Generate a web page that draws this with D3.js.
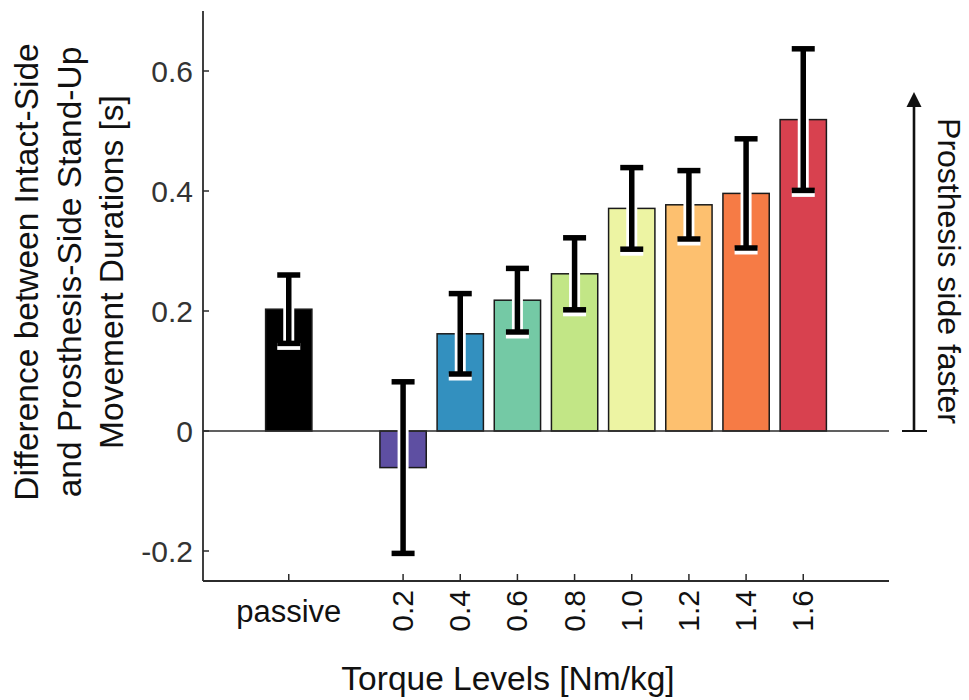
<!DOCTYPE html>
<html>
<head>
<meta charset="utf-8">
<script src="https://cdn.jsdelivr.net/npm/d3@7"></script>
<style>
  html, body { margin: 0; padding: 0; background: #fff; }
  svg { display: block; font-family: "Liberation Sans", Arial, Helvetica, sans-serif; }
</style>
</head>
<body>
<svg id="chart" width="969" height="700"></svg>
<script>
// Torque levels (passive condition first), mean duration difference and SD
const categories = ["passive", "0.2", "0.4", "0.6", "0.8", "1.0", "1.2", "1.4", "1.6"];
const meanDiff   = [0.203, -0.061, 0.162, 0.218, 0.262, 0.371, 0.377, 0.396, 0.519];
const sdDiff     = [0.057, 0.143, 0.067, 0.053, 0.060, 0.068, 0.057, 0.091, 0.118];
const barColors  = ["#000000", "#5e4fa2", "#3390bf", "#74c9a5", "#c2e686",
                    "#edf4a3", "#fdc06f", "#f67b45", "#d8414f"];
const yTicks     = [-0.2, 0, 0.2, 0.4, 0.6];
const yTickLabels = ["-0.2", "0", "0.2", "0.4", "0.6"];

const svg = d3.select("#chart");

// Category slots, with empty spacers around the passive bar and at the ends
const slots = ["_s0", "passive", "_s1", ...categories.slice(1), "_s2"];
const x = d3.scaleBand().domain(slots).range([203, 889]).paddingInner(0.19).paddingOuter(0.095);
const y = d3.scaleLinear().domain([-0.25, 0.7]).range([581, 11]);

const axisColor = "#2b2b2b";
const data = categories.map((c, i) => ({ cat: c, mean: meanDiff[i], sd: sdDiff[i], color: barColors[i] }));
const cx = d => x(d.cat) + x.bandwidth() / 2;

// Bars
svg.append("g").selectAll("rect").data(data).join("rect")
  .attr("x", d => x(d.cat))
  .attr("width", x.bandwidth())
  .attr("y", d => y(Math.max(0, d.mean)))
  .attr("height", d => Math.abs(y(d.mean) - y(0)))
  .attr("fill", d => d.color)
  .attr("stroke", "#1a1a1a")
  .attr("stroke-width", 1.5);

// Zero line
svg.append("line")
  .attr("x1", 203).attr("x2", 889)
  .attr("y1", y(0)).attr("y2", y(0))
  .attr("stroke", axisColor).attr("stroke-width", 1.6);

// Error bars: white halo underneath, black bar on top
const capW = 23;
const eb = svg.append("g").selectAll("g").data(data).join("g");
eb.append("line")
  .attr("x1", cx).attr("x2", cx)
  .attr("y1", d => y(d.mean + d.sd)).attr("y2", d => y(d.mean - d.sd))
  .attr("stroke", "#fff").attr("stroke-width", 11);
eb.append("line")
  .attr("x1", d => cx(d) - capW / 2).attr("x2", d => cx(d) + capW / 2)
  .attr("y1", d => y(d.mean - d.sd) + 3).attr("y2", d => y(d.mean - d.sd) + 3)
  .attr("stroke", "#fff").attr("stroke-width", 7);
eb.append("line")
  .attr("x1", cx).attr("x2", cx)
  .attr("y1", d => y(d.mean + d.sd)).attr("y2", d => y(d.mean - d.sd))
  .attr("stroke", "#000").attr("stroke-width", 5.5);
eb.selectAll("line.cap").data(d => [
    { x: cx(d), v: d.mean + d.sd },
    { x: cx(d), v: d.mean - d.sd }
  ]).join("line").attr("class", "cap")
  .attr("x1", c => c.x - capW / 2).attr("x2", c => c.x + capW / 2)
  .attr("y1", c => y(c.v)).attr("y2", c => y(c.v))
  .attr("stroke", "#000").attr("stroke-width", 5.5);

// Y axis
const yAxis = svg.append("g");
yAxis.append("line")
  .attr("x1", 203).attr("x2", 203).attr("y1", y(0.7)).attr("y2", y(-0.25))
  .attr("stroke", axisColor).attr("stroke-width", 1.8);
yAxis.selectAll("line.tick").data(yTicks).join("line").attr("class", "tick")
  .attr("x1", 203).attr("x2", 209)
  .attr("y1", d => y(d)).attr("y2", d => y(d))
  .attr("stroke", axisColor).attr("stroke-width", 1.5);
yAxis.selectAll("text").data(yTicks).join("text")
  .attr("x", 193).attr("y", d => y(d))
  .attr("dy", "0.36em")
  .attr("text-anchor", "end")
  .attr("font-size", 30)
  .attr("fill", "#333")
  .text((d, i) => yTickLabels[i]);

// X axis
const xAxis = svg.append("g");
xAxis.append("line")
  .attr("x1", 203).attr("x2", 889).attr("y1", y(-0.25)).attr("y2", y(-0.25))
  .attr("stroke", axisColor).attr("stroke-width", 1.8);
xAxis.selectAll("line.tick").data(categories).join("line").attr("class", "tick")
  .attr("x1", c => x(c) + x.bandwidth() / 2).attr("x2", c => x(c) + x.bandwidth() / 2)
  .attr("y1", y(-0.25)).attr("y2", y(-0.25) - 7)
  .attr("stroke", axisColor).attr("stroke-width", 1.5);
xAxis.append("text")
  .attr("x", x("passive") + x.bandwidth() / 2).attr("y", 622)
  .attr("text-anchor", "middle").attr("font-size", 31).attr("fill", "#111")
  .text("passive");
xAxis.selectAll("text.num").data(categories.slice(1)).join("text").attr("class", "num")
  .attr("transform", c => `translate(${x(c) + x.bandwidth() / 2 + 10},590) rotate(-90)`)
  .attr("text-anchor", "end").attr("font-size", 30).attr("fill", "#111")
  .text(c => c);

// Axis titles
svg.append("text")
  .attr("x", 508).attr("y", 690)
  .attr("text-anchor", "middle").attr("font-size", 33.5).attr("fill", "#111")
  .text("Torque Levels [Nm/kg]");

const yTitle = ["Difference between Intact-Side", "and Prosthesis-Side Stand-Up", "Movement Durations [s]"];
svg.append("g").selectAll("text").data(yTitle).join("text")
  .attr("transform", (t, i) => `translate(${38 + i * 42.5},272) rotate(-90)`)
  .attr("text-anchor", "middle").attr("font-size", 33.5).attr("fill", "#111")
  .text(t => t);

// Direction arrow with annotation
const arrowX = 914;
const arrowTop = 0.565;
svg.append("line")
  .attr("x1", arrowX - 12).attr("x2", arrowX + 13)
  .attr("y1", y(0)).attr("y2", y(0))
  .attr("stroke", "#111").attr("stroke-width", 2);
svg.append("line")
  .attr("x1", arrowX).attr("x2", arrowX)
  .attr("y1", y(0)).attr("y2", y(arrowTop) + 12)
  .attr("stroke", "#111").attr("stroke-width", 2.6);
svg.append("path")
  .attr("d", `M${arrowX},${y(arrowTop)} L${arrowX - 7.5},${y(arrowTop) + 15} L${arrowX + 7.5},${y(arrowTop) + 15} Z`)
  .attr("fill", "#111");
svg.append("text")
  .attr("transform", `translate(938,271) rotate(90)`)
  .attr("text-anchor", "middle").attr("font-size", 32).attr("fill", "#111")
  .text("Prosthesis side faster");
</script>
</body>
</html>
